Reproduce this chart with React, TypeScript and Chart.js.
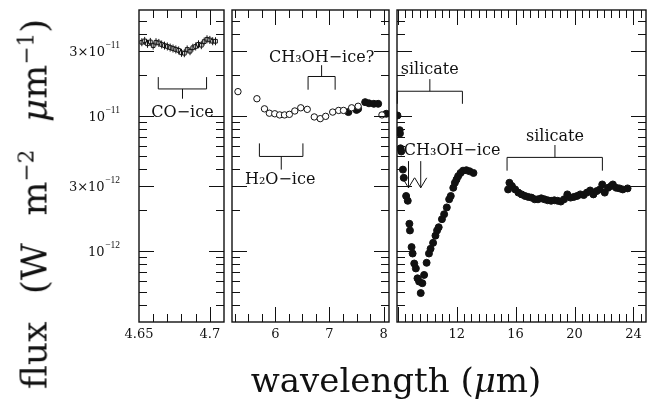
import React, { useEffect, useRef } from "react";
import { Chart, registerables } from "chart.js";
Chart.register(...registerables);

const FONT = "'DejaVu Serif', 'Liberation Serif', serif";
const INK = "#111111";

// ---------- shared log y axis ----------
const Y_MIN = 3.2e-13;
const Y_MAX = 6e-11;
const yTickValues = [1e-12, 3e-12, 1e-11, 3e-11];
const yTickBase = ["10", "3×10", "10", "3×10"];
const yTickExp = ["−12", "−12", "−11", "−11"];
const yMajorTicks = [1e-12, 3e-12, 1e-11, 3e-11];
const yMinorTicks = [4e-13, 5e-13, 6e-13, 7e-13, 8e-13, 9e-13, 2e-12, 4e-12, 5e-12, 6e-12, 7e-12, 8e-12, 9e-12, 2e-11, 4e-11, 5e-11];

// ---------- panel 1 : CO ice region ----------
const coWave = [4.652, 4.654, 4.656, 4.658, 4.660, 4.662, 4.664, 4.666, 4.668, 4.670, 4.672, 4.674, 4.676, 4.678, 4.680, 4.682, 4.684, 4.686, 4.688, 4.690, 4.692, 4.694, 4.696, 4.698, 4.700, 4.702, 4.704];
const coFlux = [3.47e-11, 3.55e-11, 3.38e-11, 3.49e-11, 3.28e-11, 3.47e-11, 3.43e-11, 3.34e-11, 3.28e-11, 3.23e-11, 3.17e-11, 3.12e-11, 3.07e-11, 3.02e-11, 2.90e-11, 2.88e-11, 3.07e-11, 2.98e-11, 3.16e-11, 3.23e-11, 3.35e-11, 3.30e-11, 3.51e-11, 3.65e-11, 3.61e-11, 3.53e-11, 3.53e-11];

// ---------- panel 2 : 5-8 micron ----------
const midWaveOpen = [5.31, 5.66, 5.80, 5.89, 5.99, 6.08, 6.17, 6.26, 6.36, 6.47, 6.59, 6.72, 6.83, 6.93, 7.06, 7.17, 7.26, 7.41, 7.53, 7.97];
const midFluxOpen = [1.50e-11, 1.33e-11, 1.12e-11, 1.04e-11, 1.03e-11, 1.01e-11, 1.01e-11, 1.02e-11, 1.08e-11, 1.14e-11, 1.11e-11, 9.76e-12, 9.48e-12, 9.86e-12, 1.06e-11, 1.09e-11, 1.09e-11, 1.14e-11, 1.17e-11, 1.01e-11];
const midWaveFilled = [7.35, 7.50, 7.53, 7.66, 7.73, 7.82, 7.90, 8.05];
const midFluxFilled = [1.06e-11, 1.10e-11, 1.12e-11, 1.255e-11, 1.23e-11, 1.22e-11, 1.22e-11, 1.03e-11];

// ---------- panel 3 : 8-24 micron ----------
const silWaveA = [7.98, 8.13, 8.15, 8.19, 8.24, 8.35, 8.41, 8.57, 8.68, 8.79, 8.83, 8.94, 9.01, 9.12, 9.23, 9.34, 9.45, 9.56, 9.67, 9.79, 9.96, 10.12, 10.23, 10.40, 10.56, 10.67, 10.78, 11.00, 11.15, 11.33, 11.49, 11.60, 11.77, 11.88, 11.99, 12.10, 12.26, 12.43, 12.66, 12.88, 13.14];
const silFluxA = [1.00e-11, 7.80e-12, 7.38e-12, 5.73e-12, 5.43e-12, 3.99e-12, 3.47e-12, 2.55e-12, 2.35e-12, 1.59e-12, 1.42e-12, 1.07e-12, 9.6e-13, 8.1e-13, 7.45e-13, 6.3e-13, 5.96e-13, 4.9e-13, 5.8e-13, 6.67e-13, 8.2e-13, 9.6e-13, 1.04e-12, 1.15e-12, 1.30e-12, 1.42e-12, 1.50e-12, 1.72e-12, 1.87e-12, 2.10e-12, 2.41e-12, 2.55e-12, 2.93e-12, 3.19e-12, 3.37e-12, 3.57e-12, 3.77e-12, 3.92e-12, 3.95e-12, 3.88e-12, 3.77e-12];
const silWaveB = [15.49, 15.58, 15.75, 15.97, 16.19, 16.41, 16.64, 16.86, 17.08, 17.30, 17.52, 17.74, 17.96, 18.18, 18.41, 18.63, 18.85, 19.07, 19.29, 19.51, 19.73, 19.95, 20.17, 20.39, 20.62, 20.84, 21.06, 21.28, 21.50, 21.72, 21.88, 22.05, 22.27, 22.49, 22.60, 22.83, 23.05, 23.27, 23.60];
const silFluxB = [2.85e-12, 3.19e-12, 3.02e-12, 2.85e-12, 2.70e-12, 2.62e-12, 2.55e-12, 2.51e-12, 2.48e-12, 2.41e-12, 2.41e-12, 2.45e-12, 2.41e-12, 2.37e-12, 2.35e-12, 2.37e-12, 2.35e-12, 2.32e-12, 2.41e-12, 2.62e-12, 2.48e-12, 2.51e-12, 2.55e-12, 2.62e-12, 2.59e-12, 2.70e-12, 2.80e-12, 2.62e-12, 2.77e-12, 2.85e-12, 3.10e-12, 2.70e-12, 2.93e-12, 3.02e-12, 3.10e-12, 2.93e-12, 2.90e-12, 2.85e-12, 2.90e-12];

// ---------- x axes ----------
const p1Range = [4.65, 4.71];
const p1LabelValues = [4.65, 4.7];
const p1LabelTexts = ["4.65", "4.7"];
const p1Major = [4.7];
const p1Minor = [4.66, 4.67, 4.68, 4.69];

const p2Range = [5.2, 8.1];
const p2LabelValues = [6, 7, 8];
const p2LabelTexts = ["6", "7", "8"];
const p2Major = [6, 7, 8];
const p2Minor = [5.25, 5.5, 5.75, 6.25, 6.5, 6.75, 7.25, 7.5, 7.75];

const p3Range = [7.95, 24.85];
const p3LabelValues = [12, 16, 20, 24];
const p3LabelTexts = ["12", "16", "20", "24"];
const p3Major = [8, 12, 16, 20, 24];
const p3Minor: number[] = [];
for (let v = 8.5; v < 24.8; v += 0.5) if (Math.abs(v / 4 - Math.round(v / 4)) > 0.01) p3Minor.push(v);

// ---------- annotations (data coordinates) ----------
type Bracket = { x1: number; x2: number; xs: number; yTip: number; yBar: number; yStem: number };
type Note = { text: string; x: number; y: number; align: CanvasTextAlign };
type Arrow = { x: number; yTop: number; yTip: number };

const p1Brackets: Bracket[] = [{ x1: 4.6636, x2: 4.6977, xs: 4.6807, yTip: 1.92e-11, yBar: 1.57e-11, yStem: 1.33e-11 }];
const p1Notes: Note[] = [{ text: "CO−ice", x: 4.6807, y: 9.81e-12, align: "center" }];

const p2Brackets: Bracket[] = [
  { x1: 6.605, x2: 7.105, xs: 6.855, yTip: 1.55e-11, yBar: 1.94e-11, yStem: 2.35e-11 },
  { x1: 5.706, x2: 6.51, xs: 6.11, yTip: 6.23e-12, yBar: 4.99e-12, yStem: 3.99e-12 },
];
const p2Notes: Note[] = [
  { text: "CH₃OH−ice?", x: 6.855, y: 2.47e-11, align: "center" },
  { text: "H₂O−ice", x: 6.09, y: 3.15e-12, align: "center" },
];

const p3Brackets: Bracket[] = [
  { x1: 7.97, x2: 12.39, xs: 10.18, yTip: 1.22e-11, yBar: 1.51e-11, yStem: 1.855e-11 },
  { x1: 15.42, x2: 21.89, xs: 18.67, yTip: 3.92e-12, yBar: 4.91e-12, yStem: 6.06e-12 },
];
const p3Notes: Note[] = [
  { text: "silicate", x: 10.17, y: 2.03e-11, align: "center" },
  { text: "silicate", x: 18.67, y: 6.53e-12, align: "center" },
  { text: "CH₃OH−ice", x: 8.41, y: 5.13e-12, align: "left" },
];
const p3Arrows: Arrow[] = [
  { x: 8.73, yTop: 4.61e-12, yTip: 2.93e-12 },
  { x: 9.56, yTop: 4.61e-12, yTip: 2.93e-12 },
];

const pts = (xs: number[], ys: number[]) => xs.map((x, i) => ({ x, y: ys[i] }));

type PanelSpec = {
  left: number; width: number; padLeft: number; padRight: number; showY: boolean;
  range: number[]; labelValues: number[]; labelTexts: string[]; major: number[]; minor: number[];
  datasets: any[]; brackets: Bracket[]; notes: Note[]; arrows: Arrow[]; errorBars: boolean;
};

const panels: PanelSpec[] = [
  {
    left: 0, width: 229, padLeft: 0, padRight: 2, showY: true,
    range: p1Range, labelValues: p1LabelValues, labelTexts: p1LabelTexts, major: p1Major, minor: p1Minor,
    datasets: [{ data: pts(coWave, coFlux), pointStyle: "rect", pointRadius: 2.6, backgroundColor: "#fff", borderColor: INK, borderWidth: 1 }],
    brackets: p1Brackets, notes: p1Notes, arrows: [], errorBars: true,
  },
  {
    left: 227, width: 167, padLeft: 2, padRight: 2, showY: false,
    range: p2Range, labelValues: p2LabelValues, labelTexts: p2LabelTexts, major: p2Major, minor: p2Minor,
    datasets: [
      { data: pts(midWaveOpen, midFluxOpen), pointStyle: "circle", pointRadius: 3.2, backgroundColor: "#fff", borderColor: INK, borderWidth: 1 },
      { data: pts(midWaveFilled, midFluxFilled), pointStyle: "circle", pointRadius: 3.5, backgroundColor: INK, borderColor: INK, borderWidth: 1 },
    ],
    brackets: p2Brackets, notes: p2Notes, arrows: [], errorBars: false,
  },
  {
    left: 392, width: 259, padLeft: 2, padRight: 2, showY: false,
    range: p3Range, labelValues: p3LabelValues, labelTexts: p3LabelTexts, major: p3Major, minor: p3Minor,
    datasets: [
      { data: pts(silWaveA, silFluxA), pointStyle: "circle", pointRadius: 3.5, backgroundColor: INK, borderColor: INK, borderWidth: 1 },
      { data: pts(silWaveB, silFluxB), pointStyle: "circle", pointRadius: 3.5, backgroundColor: INK, borderColor: INK, borderWidth: 1 },
    ],
    brackets: p3Brackets, notes: p3Notes, arrows: p3Arrows, errorBars: false,
  },
];

function makeFramePlugin(spec: PanelSpec) {
  return {
    id: "frame",
    afterDatasetsDraw(chart: any) {
      const { ctx, chartArea: a, scales } = chart;
      const xs = scales.x, ys = scales.y;
      ctx.save();
      ctx.strokeStyle = INK;
      // error bars
      if (spec.errorBars) {
        ctx.lineWidth = 1;
        const meta = chart.getDatasetMeta(0);
        meta.data.forEach((el: any) => {
          ctx.beginPath();
          ctx.moveTo(el.x, el.y - 4);
          ctx.lineTo(el.x, el.y + 4);
          ctx.stroke();
        });
      }
      // frame
      ctx.lineWidth = 1.4;
      ctx.strokeRect(a.left, a.top, a.right - a.left, a.bottom - a.top);
      ctx.lineWidth = 1;
      const xTicks: [number[], number][] = [[spec.major, 15], [spec.minor, 8]];
      xTicks.forEach(([vals, len]) => vals.forEach((v) => {
        const px = Math.round(xs.getPixelForValue(v)) + 0.5;
        if (px < a.left + 1 || px > a.right - 1) return;
        ctx.beginPath();
        ctx.moveTo(px, a.bottom); ctx.lineTo(px, a.bottom - len);
        ctx.moveTo(px, a.top); ctx.lineTo(px, a.top + len);
        ctx.stroke();
      }));
      const yTicks: [number[], number][] = [[yMajorTicks, 15], [yMinorTicks, 8]];
      yTicks.forEach(([vals, len]) => vals.forEach((v) => {
        const py = Math.round(ys.getPixelForValue(v)) + 0.5;
        if (py < a.top + 1 || py > a.bottom - 1) return;
        ctx.beginPath();
        ctx.moveTo(a.left, py); ctx.lineTo(a.left + len, py);
        ctx.moveTo(a.right, py); ctx.lineTo(a.right - len, py);
        ctx.stroke();
      }));
      // y tick labels with raised exponents
      if (spec.showY) {
        ctx.fillStyle = INK;
        ctx.textAlign = "right";
        ctx.textBaseline = "alphabetic";
        yTickValues.forEach((v, i) => {
          const py = ys.getPixelForValue(v);
          const right = a.left - 19;
          ctx.font = `9.5px 'Liberation Serif', serif`;
          const ew = ctx.measureText(yTickExp[i]).width;
          ctx.fillText(yTickExp[i], right, py - 3);
          ctx.font = `13px ${FONT}`;
          ctx.fillText(yTickBase[i], right - ew - 0.5, py + 5);
        });
      }
      // brackets
      spec.brackets.forEach((b) => {
        const x1 = xs.getPixelForValue(b.x1), x2 = xs.getPixelForValue(b.x2), xm = xs.getPixelForValue(b.xs);
        const yt = ys.getPixelForValue(b.yTip), yb = ys.getPixelForValue(b.yBar), ysm = ys.getPixelForValue(b.yStem);
        ctx.beginPath();
        ctx.moveTo(x1, yt); ctx.lineTo(x1, yb); ctx.lineTo(x2, yb); ctx.lineTo(x2, yt);
        ctx.moveTo(xm, yb); ctx.lineTo(xm, ysm);
        ctx.stroke();
      });
      // arrows
      spec.arrows.forEach((ar) => {
        const x = xs.getPixelForValue(ar.x), y0 = ys.getPixelForValue(ar.yTop), y1 = ys.getPixelForValue(ar.yTip);
        ctx.beginPath();
        ctx.moveTo(x, y0); ctx.lineTo(x, y1);
        ctx.moveTo(x - 6, y1 - 10); ctx.lineTo(x, y1); ctx.lineTo(x + 6, y1 - 10);
        ctx.stroke();
      });
      // notes
      ctx.fillStyle = INK;
      ctx.font = `16px ${FONT}`;
      ctx.textBaseline = "alphabetic";
      spec.notes.forEach((n) => {
        ctx.textAlign = n.align;
        ctx.fillText(n.text, xs.getPixelForValue(n.x), ys.getPixelForValue(n.y));
      });
      ctx.restore();
    },
  };
}

function Panel({ spec }: { spec: PanelSpec }) {
  const ref = useRef<HTMLCanvasElement | null>(null);
  useEffect(() => {
    if (!ref.current) return;
    const chart = new Chart(ref.current, {
      type: "scatter",
      data: { datasets: spec.datasets.map((d) => ({ ...d, showLine: false })) },
      options: {
        responsive: false,
        animation: false,
        devicePixelRatio: 1,
        layout: { padding: { top: 10, bottom: 0, left: spec.padLeft, right: spec.padRight } },
        plugins: { legend: { display: false }, tooltip: { enabled: false } },
        scales: {
          x: {
            type: "linear",
            min: spec.range[0],
            max: spec.range[1],
            grid: { display: false, drawTicks: false },
            border: { display: false },
            afterFit: (s: any) => { s.height = 88; },
            afterBuildTicks: (s: any) => { s.ticks = spec.labelValues.map((v) => ({ value: v })); },
            ticks: {
              padding: 5,
              maxRotation: 0,
              autoSkip: false,
              color: INK,
              font: { family: FONT, size: 13 },
              callback: (_v: any, i: number) => spec.labelTexts[i],
            },
          },
          y: {
            type: "logarithmic",
            display: spec.showY,
            min: Y_MIN,
            max: Y_MAX,
            grid: { display: false, drawTicks: false },
            border: { display: false },
            afterFit: (s: any) => { s.width = spec.showY ? 139 : 0; },
            afterBuildTicks: (s: any) => { s.ticks = yTickValues.map((v) => ({ value: v })); },
            ticks: { display: false },
          },
        },
      } as any,
      plugins: [makeFramePlugin(spec)],
    });
    return () => chart.destroy();
  }, [spec]);
  return (
    <canvas
      ref={ref}
      width={spec.width}
      height={410}
      style={{ position: "absolute", left: spec.left, top: 0, width: spec.width, height: 410 }}
    />
  );
}

export default function App() {
  return (
    <div style={{ position: "absolute", left: 0, top: 0, width: 656, height: 410, background: "#fff", overflow: "hidden" }}>
      {panels.map((p, i) => <Panel key={i} spec={p} />)}
      <div
        style={{
          position: "absolute", left: 396, top: 380, transform: "translate(-50%, -50%)",
          fontFamily: FONT, fontSize: 34, whiteSpace: "nowrap", color: INK, lineHeight: 1,
        }}
      >
        wavelength (<i>μ</i>m)
      </div>
      <div
        style={{
          position: "absolute", left: 34, top: 204, transform: "translate(-50%, -50%) rotate(-90deg)",
          fontFamily: FONT, fontSize: 36, whiteSpace: "nowrap", color: INK, lineHeight: 1, wordSpacing: 16,
        }}
      >
        flux (W m<sup style={{ fontSize: "0.6em" }}>−2</sup> <i>μ</i>m<sup style={{ fontSize: "0.6em" }}>−1</sup>)
      </div>
    </div>
  );
}
